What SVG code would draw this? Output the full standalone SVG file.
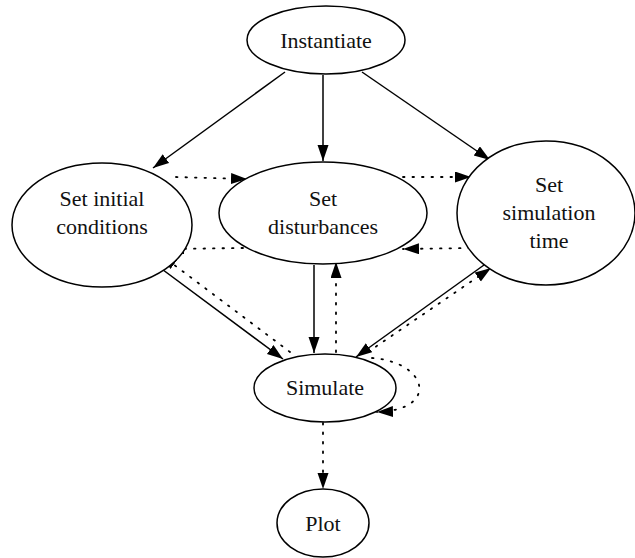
<svg xmlns="http://www.w3.org/2000/svg" width="635" height="558" viewBox="0 0 635 558">
  <style>
    .shape { fill: #fff; stroke: #000; stroke-width: 1.5; }
    .edge { fill: none; stroke: #000; stroke-width: 1.5; }
    .dot { stroke-dasharray: 1.5 8; stroke-linecap: round; stroke-width: 1.8; }
  </style>
  <defs>
    <marker id="arrow" markerUnits="userSpaceOnUse" markerWidth="18" markerHeight="12" refX="16" refY="5.5" orient="auto">
      <path d="M0,0 L16,5.5 L0,11 z" fill="#000"/>
    </marker>
  </defs>
  <rect width="635" height="558" fill="#fff"/>

  <g id="edges">
    <!-- solid: Instantiate fan-out -->
    <line class="edge" x1="285" y1="72" x2="153" y2="168" marker-end="url(#arrow)"/>
    <line class="edge" x1="323" y1="75" x2="323" y2="161" marker-end="url(#arrow)"/>
    <line class="edge" x1="362" y1="72" x2="490" y2="160" marker-end="url(#arrow)"/>
    <!-- dotted: between setters -->
    <line class="edge dot" x1="176" y1="177" x2="247" y2="179" marker-end="url(#arrow)"/>
    <line class="edge dot" x1="243" y1="248" x2="168" y2="249" marker-end="url(#arrow)"/>
    <line class="edge dot" x1="403" y1="177" x2="471" y2="177" marker-end="url(#arrow)"/>
    <line class="edge dot" x1="470" y1="248" x2="403" y2="249" marker-end="url(#arrow)"/>
    <!-- solid: setters into Simulate -->
    <line class="edge" x1="147" y1="258" x2="283" y2="359" marker-end="url(#arrow)"/>
    <line class="edge" x1="314" y1="265" x2="314" y2="353" marker-end="url(#arrow)"/>
    <line class="edge" x1="484" y1="265" x2="356" y2="357" marker-end="url(#arrow)"/>
    <!-- dotted: Simulate back to setters -->
    <line class="edge dot" x1="290" y1="352" x2="161" y2="255" marker-end="url(#arrow)"/>
    <line class="edge dot" x1="336" y1="352" x2="336" y2="262" marker-end="url(#arrow)"/>
    <line class="edge dot" x1="368" y1="352" x2="491" y2="268" marker-end="url(#arrow)"/>
    <!-- dotted: Simulate self-loop -->
    <path class="edge dot" d="M372 358 C428 362, 440 410, 377 412" marker-end="url(#arrow)"/>
    <!-- dotted: Simulate to Plot -->
    <line class="edge dot" x1="323" y1="423" x2="323" y2="489" marker-end="url(#arrow)"/>
  </g>

  <g id="instantiate">
    <ellipse class="shape" cx="326" cy="40" rx="79" ry="34"/>
    <text x="326" y="48" font-family="'Liberation Serif', 'Times New Roman', 'DejaVu Serif', serif" font-size="22" text-anchor="middle" fill="#111">Instantiate</text>
  </g>
  <g id="set-initial-conditions">
    <ellipse class="shape" cx="102" cy="225" rx="90" ry="62"/>
    <text x="102" y="206" font-family="'Liberation Serif', 'Times New Roman', 'DejaVu Serif', serif" font-size="22" text-anchor="middle" fill="#111">Set initial</text>
    <text x="102" y="234" font-family="'Liberation Serif', 'Times New Roman', 'DejaVu Serif', serif" font-size="22" text-anchor="middle" fill="#111">conditions</text>
  </g>
  <g id="set-disturbances">
    <ellipse class="shape" cx="323" cy="213" rx="104" ry="51"/>
    <text x="323" y="206" font-family="'Liberation Serif', 'Times New Roman', 'DejaVu Serif', serif" font-size="22" text-anchor="middle" fill="#111">Set</text>
    <text x="323" y="234" font-family="'Liberation Serif', 'Times New Roman', 'DejaVu Serif', serif" font-size="22" text-anchor="middle" fill="#111">disturbances</text>
  </g>
  <g id="set-simulation-time">
    <ellipse class="shape" cx="546" cy="213" rx="89" ry="72"/>
    <text x="549" y="192" font-family="'Liberation Serif', 'Times New Roman', 'DejaVu Serif', serif" font-size="22" text-anchor="middle" fill="#111">Set</text>
    <text x="549" y="220" font-family="'Liberation Serif', 'Times New Roman', 'DejaVu Serif', serif" font-size="22" text-anchor="middle" fill="#111">simulation</text>
    <text x="549" y="248" font-family="'Liberation Serif', 'Times New Roman', 'DejaVu Serif', serif" font-size="22" text-anchor="middle" fill="#111">time</text>
  </g>
  <g id="simulate">
    <ellipse class="shape" cx="325" cy="388" rx="71" ry="34"/>
    <text x="325" y="395" font-family="'Liberation Serif', 'Times New Roman', 'DejaVu Serif', serif" font-size="22" text-anchor="middle" fill="#111">Simulate</text>
  </g>
  <g id="plot">
    <ellipse class="shape" cx="323" cy="523" rx="46" ry="34"/>
    <text x="323" y="531" font-family="'Liberation Serif', 'Times New Roman', 'DejaVu Serif', serif" font-size="22" text-anchor="middle" fill="#111">Plot</text>
  </g>
</svg>
